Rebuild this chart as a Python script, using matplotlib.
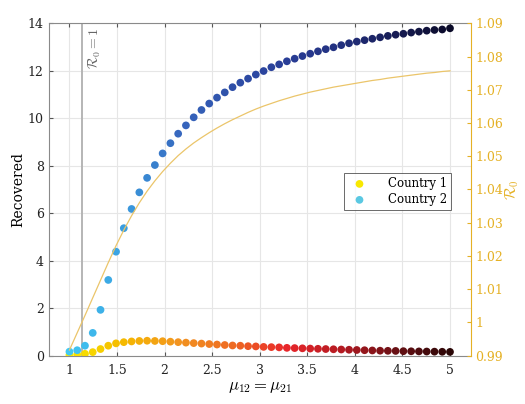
import matplotlib
matplotlib.use("Agg")
import matplotlib.pyplot as plt
import numpy
from matplotlib.colors import LinearSegmentedColormap

plt.rcParams['font.family'] = ['DejaVu Serif']
plt.rcParams['mathtext.fontset'] = 'cm'

# mobility values (50 samples between 1 and 5)
mu = numpy.linspace(1, 5, 50)

recovered_1 = [0.03, 0.05, 0.08, 0.15, 0.28, 0.42, 0.52, 0.57, 0.60, 0.62,
               0.63, 0.62, 0.61, 0.59, 0.57, 0.55, 0.53, 0.51, 0.49, 0.47,
               0.45, 0.43, 0.42, 0.40, 0.39, 0.37, 0.36, 0.35, 0.33, 0.32,
               0.31, 0.30, 0.29, 0.28, 0.27, 0.26, 0.25, 0.24, 0.23, 0.22,
               0.21, 0.205, 0.20, 0.19, 0.185, 0.18, 0.175, 0.17, 0.165, 0.16]

recovered_2 = [0.17, 0.23, 0.42, 0.96, 1.93, 3.19, 4.38, 5.37, 6.18, 6.88,
               7.49, 8.03, 8.52, 8.95, 9.35, 9.70, 10.04, 10.35, 10.62, 10.87,
               11.09, 11.31, 11.50, 11.67, 11.84, 11.99, 12.15, 12.27, 12.40, 12.51,
               12.62, 12.72, 12.82, 12.91, 12.99, 13.08, 13.16, 13.23, 13.29, 13.35,
               13.41, 13.47, 13.52, 13.56, 13.61, 13.65, 13.69, 13.72, 13.74, 13.79]

r0 = [0.9917, 0.9969, 1.0021, 1.0074, 1.0127, 1.0180, 1.0231, 1.0278, 1.0321, 1.0360,
      1.0395, 1.0426, 1.0454, 1.0479, 1.0502, 1.0522, 1.0540, 1.0556, 1.0571, 1.0585,
      1.0598, 1.0610, 1.0621, 1.0632, 1.0642, 1.0651, 1.0659, 1.0667, 1.0674, 1.0681,
      1.0687, 1.0693, 1.0698, 1.0703, 1.0708, 1.0712, 1.0716, 1.0720, 1.0724, 1.0728,
      1.0731, 1.0735, 1.0738, 1.0741, 1.0744, 1.0747, 1.0750, 1.0752, 1.0755, 1.0757]

mu_threshold = 1.13

cmap_1 = LinearSegmentedColormap.from_list(
    'c1', ['#f8e800', '#f5b800', '#f29420', '#ee6a22', '#e8262a', '#b41a22', '#6a1014', '#2a0606'])
cmap_2 = LinearSegmentedColormap.from_list(
    'c2', ['#40c8f2', '#3a9ee0', '#3768bf', '#2f4fa8', '#293e97', '#22307e', '#171c55', '#0a0a28'])

gold = '#e5b125'
axis_gray = '#555555'

fig = plt.figure(figsize=(5.25, 4.04), dpi=100)
ax = fig.add_axes([0.0924, 0.1196, 0.8046, 0.8227])
ax2 = ax.twinx()

ax.axvline(mu_threshold, color='#b5b5b5', lw=1.4, zorder=1)
ax.text(mu_threshold + 0.05, 13.85, r'$\mathcal{R}_0 = 1$', rotation=90,
        color='#666666', fontsize=10, ha='left', va='top')

t = numpy.linspace(0, 1, len(mu))
ax.scatter(mu, recovered_1, s=31, c=cmap_1(t), edgecolors='none', zorder=3)
ax.scatter(mu, recovered_2, s=31, c=cmap_2(t), edgecolors='none', zorder=3)

# legend proxies
ax.scatter([], [], s=31, c='#f8e800', edgecolors='none', label='Country 1')
ax.scatter([], [], s=31, c='#5ac8e2', edgecolors='none', label='Country 2')

ax2.plot(mu, r0, color='#ebc56a', lw=0.9)

ax.set_xlim(0.78, 5.22)
ax.set_ylim(0, 14)
ax2.set_ylim(0.99, 1.09)

ax.set_xticks([1, 1.5, 2, 2.5, 3, 3.5, 4, 4.5, 5])
ax.set_xticklabels(['1', '1.5', '2', '2.5', '3', '3.5', '4', '4.5', '5'])
ax.set_yticks(range(0, 15, 2))
ax2.set_yticks([0.99, 1.0, 1.01, 1.02, 1.03, 1.04, 1.05, 1.06, 1.07, 1.08, 1.09])
ax2.set_yticklabels(['0.99', '1', '1.01', '1.02', '1.03', '1.04', '1.05', '1.06', '1.07', '1.08', '1.09'])

ax.grid(True, color='#e6e6e6', lw=0.8)
ax.set_axisbelow(True)

ax.tick_params(axis='x', direction='in', top=True, length=3, labelsize=9,
               color=axis_gray, labelcolor='#222222', pad=6)
ax.tick_params(axis='y', direction='in', length=3, labelsize=9,
               color=axis_gray, labelcolor='#222222')
ax2.tick_params(axis='y', direction='in', length=3, labelsize=9,
                color=gold, labelcolor=gold, pad=3)

for side in ['left', 'bottom', 'top']:
    ax.spines[side].set_color('#8a8a8a')
ax.spines['right'].set_visible(False)
ax2.spines['right'].set_color(gold)
for side in ['left', 'bottom', 'top']:
    ax2.spines[side].set_visible(False)

ax.set_xlabel(r'$\mu_{12} = \mu_{21}$', fontsize=12, labelpad=1)
ax.set_ylabel('Recovered', fontsize=10, labelpad=2)
ax2.set_ylabel(r'$\mathcal{R}_0$', fontsize=11, color=gold, va='center', ha='center')
ax2.yaxis.set_label_coords(1.097, 0.5)

leg = ax.legend(loc='upper right', bbox_to_anchor=(0.953, 0.55), fontsize=8.5,
                frameon=True, fancybox=False, edgecolor='#444444',
                handletextpad=1.4, borderpad=0.35, labelspacing=0.25,
                borderaxespad=0)
leg.get_frame().set_linewidth(0.7)
leg.set_zorder(5)

fig.savefig('out.png', dpi=100)
